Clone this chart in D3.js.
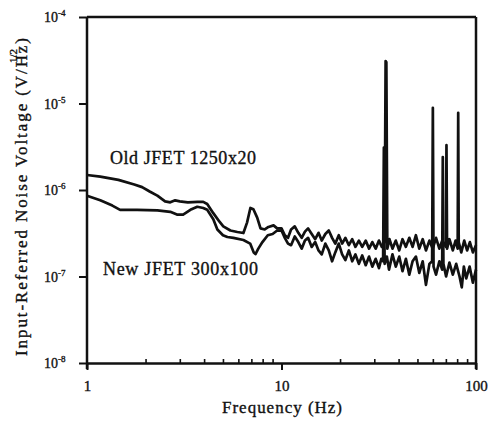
<!DOCTYPE html>
<html>
<head>
<meta charset="utf-8">
<script src="https://cdn.jsdelivr.net/npm/d3@7"></script>
<style>
  body { margin: 0; background: #fff; }
  svg { display: block; }
  svg text { font-family: "Times New Roman", "Liberation Serif", "DejaVu Serif", serif !important; fill: #111; stroke: #111; stroke-width: 0.35px; }
</style>
</head>
<body>
<svg></svg>
<script>
// noise spectra, [frequency Hz, noise V/sqrt(Hz)]
let oldJfet = [
  [1.0,1.49e-6],[1.17,1.43e-6],[1.45,1.31e-6],[1.75,1.16e-6],[1.92,1.08e-6],[2.1,9.6e-7],
  [2.3,8.6e-7],[2.52,7.4e-7],[2.68,7.2e-7],[2.84,7.6e-7],[3.0,7.4e-7],[3.3,7.2e-7],
  [3.7,7.3e-7],[3.96,7.3e-7],[4.15,6.9e-7],[4.46,5.4e-7],[4.8,4.3e-7],[5.02,3.8e-7],
  [5.46,3.4e-7],[5.93,3.27e-7],[6.37,3.18e-7],[6.65,4.2e-7],[6.92,6.2e-7],[7.17,6.0e-7],
  [7.5,4.8e-7],[7.8,3.6e-7],[8.2,3.5e-7],[8.57,3.74e-7],[9.1,3.9e-7],[9.5,3.6e-7],
  [10,3.6e-7],[10.4,3.0e-7],[10.8,2.8e-7],[11.2,3.5e-7],[11.7,3.8e-7],[12.2,3.2e-7],
  [12.7,2.8e-7],[13.2,3.3e-7],[13.7,3.6e-7],[14.3,3.1e-7],[14.9,2.7e-7],[15.5,3.2e-7],
  [16.1,2.6e-7],[16.8,3.1e-7],[17.5,3.4e-7],[18.2,2.8e-7],[18.9,2.4e-7],[19.7,3.0e-7],
  [20.5,2.4e-7],[21.3,2.8e-7],[22.2,2.3e-7],[23.1,2.7e-7],[24.0,2.2e-7],[25.0,2.6e-7],
  [26.0,2.2e-7],[27.1,2.6e-7],[28.2,2.1e-7],[29.3,2.5e-7],[30.5,2.1e-7],[31.7,2.6e-7],
  [32.8,2.2e-7],[33.9,2.5e-7],[34.3,3.1e-5],[34.6,3.0e-5],[35.0,2.1e-7],[35.9,2.7e-7],
  [37.2,2.1e-7],[38.7,2.6e-7],[40.3,2.0e-7],[41.9,2.7e-7],[43.6,2.2e-7],[45.4,2.8e-7],
  [47.2,2.2e-7],[49.1,3.0e-7],[51.1,2.1e-7],[53.2,2.7e-7],[55.3,2.0e-7],[57.6,2.6e-7],
  [59.9,2.1e-7],[62.3,2.8e-7],[64.8,2.1e-7],[67.0,2.6e-7],[70.0,2.2e-7],[70.5,3.3e-6],
  [71.0,2.1e-7],[73.0,2.7e-7],[76.0,2.0e-7],[78.5,2.6e-7],[80.5,2.1e-7],[81.0,7.8e-6],
  [81.5,2.5e-7],[84.0,1.9e-7],[87.0,2.6e-7],[90.0,2.0e-7],[93.0,2.5e-7],[96.4,1.9e-7],
  [100,2.3e-7]
];
let newJfet = [
  [1.0,8.6e-7],[1.17,7.6e-7],[1.35,6.6e-7],[1.48,5.9e-7],[1.81,5.9e-7],[2.3,5.8e-7],
  [2.68,5.6e-7],[2.9,5.2e-7],[3.12,5.2e-7],[3.4,5.9e-7],[3.69,6.4e-7],[3.96,6.2e-7],
  [4.15,5.9e-7],[4.46,4.6e-7],[4.68,3.5e-7],[5.0,3.0e-7],[5.27,2.86e-7],[5.66,2.8e-7],
  [6.37,2.64e-7],[6.9,2.4e-7],[7.2,1.9e-7],[7.35,1.82e-7],[7.6,2.1e-7],[7.98,2.5e-7],
  [8.5,3.0e-7],[9.0,3.1e-7],[9.5,3.4e-7],
  [10,3.4e-7],[10.4,2.8e-7],[10.8,2.4e-7],[11.2,2.3e-7],[11.7,2.9e-7],[12.2,2.5e-7],
  [12.7,2.1e-7],[13.2,2.6e-7],[13.7,2.8e-7],[14.3,2.2e-7],[14.9,2.5e-7],[15.5,2.0e-7],
  [16.1,1.8e-7],[16.8,2.4e-7],[17.5,2.0e-7],[18.2,1.5e-7],[18.9,1.9e-7],[19.7,2.4e-7],
  [20.5,1.8e-7],[21.3,1.55e-7],[22.2,2.0e-7],[23.1,1.5e-7],[24.0,1.8e-7],[25.0,1.4e-7],
  [26.0,1.75e-7],[27.1,1.35e-7],[28.2,1.7e-7],[29.3,1.3e-7],[30.5,1.6e-7],[31.7,1.25e-7],
  [32.6,1.6e-7],[33.3,1.5e-7],[33.6,3.1e-6],[33.9,1.4e-7],[34.8,1.7e-7],[35.7,1.2e-7],
  [37.2,1.8e-7],[38.7,1.3e-7],[40.3,1.7e-7],[41.9,1.15e-7],[43.6,1.6e-7],[45.4,1.05e-7],
  [47.2,1.5e-7],[49.1,1.7e-7],[51.1,1.1e-7],[53.2,1.5e-7],[55.3,8e-8],[57.6,1.4e-7],
  [59.5,1.5e-7],[60.0,8.9e-6],[60.5,1.3e-7],[62.3,1.05e-7],[64.8,1.5e-7],[67.0,1.2e-7],
  [67.5,2.4e-6],[68.0,1.4e-7],[70.2,1.0e-7],[73.0,1.45e-7],[76.0,1.05e-7],[79.1,1.4e-7],
  [82.3,1.0e-7],[84.5,7.5e-8],[86.6,1.3e-7],[89.1,9.5e-8],[92.7,1.3e-7],[96.4,8.5e-8],
  [100,1.2e-7]
];
let xMajor = [1, 10, 100],
    xMinor = [2,3,4,5,6,7,8,9,20,30,40,50,60,70,80,90],
    yMajor = [1e-8, 1e-7, 1e-6, 1e-5, 1e-4],
    yExp   = ["-8", "-7", "-6", "-5", "-4"];

let width = 489, height = 421,
    mLeft = 87, mRight = 476, mTop = 17, mBottom = 363,
    xScale = d3.scaleLog().domain([1, 100]).range([mLeft, mRight]),
    yScale = d3.scaleLog().domain([1e-8, 1e-4]).range([mBottom, mTop]),
    svg = d3.select("svg").attr("width", width).attr("height", height);

let line = d3.line().x(d => xScale(d[0])).y(d => yScale(d[1]));

// curves
[oldJfet, newJfet].forEach(data => {
  svg.append("path")
    .datum(data)
    .attr("d", line)
    .attr("fill", "none")
    .attr("stroke", "#111")
    .attr("stroke-width", 2.7)
    .attr("stroke-linejoin", "round");
});

// frame
let frame = svg.append("g").attr("stroke", "#111").attr("stroke-width", 2.5);
frame.append("line").attr("x1", mLeft).attr("x2", mRight).attr("y1", mTop).attr("y2", mTop);
frame.append("line").attr("x1", mLeft).attr("x2", mLeft).attr("y1", mTop).attr("y2", mBottom + 6);
frame.append("line").attr("x1", mRight).attr("x2", mRight).attr("y1", mTop).attr("y2", mBottom + 6);

// x axis: minor ticks inside, major ticks with labels
svg.append("g")
  .attr("transform", `translate(0,${mBottom})`)
  .call(d3.axisBottom(xScale).tickValues(xMinor).tickSizeInner(-4).tickSizeOuter(0).tickFormat(""))
  .call(g => g.select(".domain").attr("stroke-width", 2.5).attr("stroke", "#111"))
  .call(g => g.selectAll(".tick line").attr("stroke-width", 1.6).attr("stroke", "#111"));

svg.append("g")
  .attr("transform", `translate(0,${mBottom})`)
  .call(d3.axisBottom(xScale).tickValues(xMajor).tickSize(7).tickPadding(10).tickFormat(d3.format("d")))
  .call(g => g.select(".domain").remove())
  .call(g => g.selectAll(".tick line").attr("stroke-width", 2).attr("stroke", "#111"))
  .call(g => g.selectAll(".tick text").attr("font-size", 15));

// y axis ticks
svg.append("g")
  .attr("transform", `translate(${mLeft},0)`)
  .call(d3.axisLeft(yScale).tickValues(yMajor).tickSize(8).tickFormat(""))
  .call(g => g.select(".domain").remove())
  .call(g => g.selectAll(".tick line").attr("stroke-width", 2).attr("stroke", "#111"));

// y tick labels 10^n
let yLab = svg.append("g").selectAll("text")
  .data(yMajor)
  .join("text")
    .attr("x", 44)
    .attr("y", d => yScale(d) + 5)
    .attr("font-size", 14);
yLab.append("tspan").text("10");
yLab.append("tspan")
  .attr("dy", -6)
  .attr("font-size", 9)
  .text((d, i) => yExp[i]);

// axis titles
svg.append("text")
  .attr("x", 282)
  .attr("y", 413)
  .attr("text-anchor", "middle")
  .attr("font-size", 17)
  .attr("textLength", 120)
  .attr("lengthAdjust", "spacing")
  .text("Frequency (Hz)");

svg.append("text")
  .attr("transform", "translate(27,197) rotate(-90)")
  .attr("text-anchor", "middle")
  .attr("font-size", 17)
  .attr("textLength", 318)
  .attr("lengthAdjust", "spacing")
  .text("Input-Referred Noise Voltage (V/Hz)");

svg.append("text")
  .attr("transform", "translate(17,56) rotate(-90)")
  .attr("text-anchor", "middle")
  .attr("font-size", 11)
  .text("1/2");

// curve labels
svg.append("text")
  .attr("x", 110)
  .attr("y", 164)
  .attr("font-size", 18)
  .attr("textLength", 146)
  .attr("lengthAdjust", "spacing")
  .text("Old JFET 1250x20");

svg.append("text")
  .attr("x", 103)
  .attr("y", 275)
  .attr("font-size", 18)
  .attr("textLength", 155)
  .attr("lengthAdjust", "spacing")
  .text("New JFET 300x100");
</script>
</body>
</html>
